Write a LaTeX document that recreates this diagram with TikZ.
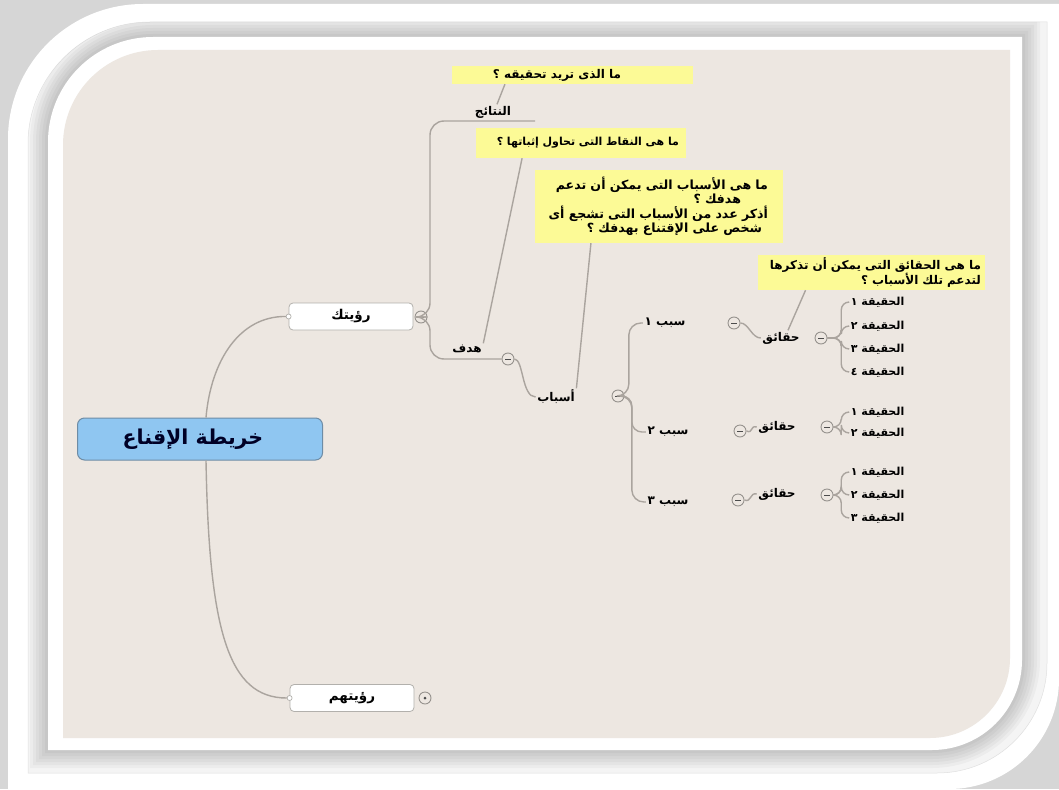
\documentclass[tikz,border=0pt]{standalone}
\usepackage{fontspec}
\usetikzlibrary{calc}
\TeXXeTstate=1
\newfontfamily\arfont[Script=Arabic]{DejaVu Sans}

\definecolor{paper}{RGB}{237,231,225}
\definecolor{edgegray}{RGB}{214,214,214}
\definecolor{glowgray}{RGB}{244,244,244}
\definecolor{linkgray}{RGB}{170,164,158}
\definecolor{boxgray}{RGB}{178,176,172}
\definecolor{notey}{RGB}{252,250,150}
\definecolor{rootblue}{RGB}{143,198,241}
\definecolor{rootedge}{RGB}{110,140,165}
\definecolor{toggray}{RGB}{150,146,142}

% frame outline with rounded top-left and bottom-right corners:
% x1 y1 x2 y2 radiusTL radiusBR
\newcommand{\tlbr}[6]{(#1,{#2+#5}) .. controls (#1,{#2+0.448*#5}) and ({#1+0.448*#5},#2) .. ({#1+#5},#2) -- (#3,#2) -- (#3,{#4-#6}) .. controls (#3,{#4-0.448*#6}) and ({#3-0.448*#6},#4) .. ({#3-#6},#4) -- (#1,#4) -- cycle}

\tikzset{
  conn/.style={draw=linkgray, line width=1.4},
  lbl/.style={font=\arfont\bfseries\fontsize{12}{14}\selectfont, inner sep=1.5, text=black},
  fact/.style={lbl, anchor=east, font=\arfont\bfseries\fontsize{11}{13}\selectfont},
  topicbox/.style={draw=boxgray, fill=white, rounded corners=4, line width=0.8,
    minimum width=124, minimum height=27, inner sep=0,
    font=\arfont\bfseries\fontsize{13.5}{15}\selectfont},
  rootbox/.style={draw=rootedge, fill=rootblue, rounded corners=7, line width=1,
    minimum width=245, minimum height=42, inner sep=0, text=black!85!blue,
    font=\arfont\bfseries\fontsize{20.5}{23}\selectfont},
  note/.style={fill=notey, inner sep=0, align=right,
    font=\arfont\bfseries\fontsize{12}{15}\selectfont},
  fold/.style={circle, draw=toggray, fill=paper, line width=0.9, minimum size=12, inner sep=0,
    path picture={\draw[line width=1, black!70]
      ([xshift=-2.6pt]path picture bounding box.center) -- ([xshift=2.6pt]path picture bounding box.center);}},
  unfold/.style={circle, draw=toggray, fill=paper, line width=0.9, minimum size=12, inner sep=0,
    path picture={\fill[black!70] (path picture bounding box.center) circle (1.5pt);}},
  joint/.style={circle, draw=boxgray, fill=white, line width=0.7, minimum size=5, inner sep=0},
}

\begin{document}
\begin{tikzpicture}[x=1pt,y=-1pt]
\useasboundingbox (0,0) rectangle (1059,789);

% ---- sheet and frame ----
\fill[edgegray] (0,0) rectangle (1059,789);
\fill[white] \tlbr{8}{4}{1059}{789}{135}{110};
\fill[glowgray] \tlbr{28}{22}{1047}{773}{122}{110};
\draw[black!12, line width=0.5] \tlbr{28}{22}{1047}{773}{122}{110};
\begin{scope}
  \clip \tlbr{28}{22}{1047}{773}{122}{110};
  \foreach \w in {36,30,24,18,12,6}
    \draw[black, opacity=0.03, line width=\w] \tlbr{48}{37}{1022}{750}{105}{90};
\end{scope}
\fill[white] \tlbr{48}{37}{1022}{750}{105}{90};
\fill[paper] \tlbr{63}{50}{1010}{738}{95}{80};

% ---- topics ----
\node[rootbox] (root) at (200,439) {\beginR خريطة الإقناع\endR\hspace*{14pt}};
\node[topicbox] (vis) at (351,316.5) {\beginR رؤيتك\endR};
\node[topicbox] (theirs) at (352,698) {\beginR رؤيتهم\endR};
\node[joint] (jv) at (vis.west) {};
\node[joint] (jt) at (theirs.west) {};
\node[fold] (cv) at (421,317) {};
\node[unfold] (ct) at (425,698) {};

\node[lbl] (res) at (493,112) {\beginR النتائج\endR};
\node[lbl] (goal) at (467,349) {\beginR هدف\endR};
\node[fold] (cg) at (508,359) {};
\node[lbl] (reasons) at (556,397) {\beginR أسباب\endR};
\node[fold] (cr) at (618,396) {};

% first reason
\node[lbl] (r1) at (665,323) {\beginR سبب ١\endR};
\node[fold] (c1) at (734,323) {};
\node[lbl] (f1) at (781,338) {\beginR حقائق\endR};
\node[fold] (cf1) at (821,338) {};
\node[fact] (f1a) at (906,302) {\beginR الحقيقة ١\endR};
\node[fact] (f1b) at (906,326) {\beginR الحقيقة ٢\endR};
\node[fact] (f1c) at (906,349) {\beginR الحقيقة ٣\endR};
\node[fact] (f1d) at (906,372) {\beginR الحقيقة ٤\endR};

% second reason
\node[lbl] (r2) at (668,432) {\beginR سبب ٢\endR};
\node[fold] (c2) at (740,431) {};
\node[lbl] (f2) at (777,427) {\beginR حقائق\endR};
\node[fold] (cf2) at (827,427) {};
\node[fact] (f2a) at (906,412) {\beginR الحقيقة ١\endR};
\node[fact] (f2b) at (906,433) {\beginR الحقيقة ٢\endR};

% third reason
\node[lbl] (r3) at (668,502) {\beginR سبب ٣\endR};
\node[fold] (c3) at (738,500) {};
\node[lbl] (f3) at (777,494) {\beginR حقائق\endR};
\node[fold] (cf3) at (827,495) {};
\node[fact] (f3a) at (906,472) {\beginR الحقيقة ١\endR};
\node[fact] (f3b) at (906,495) {\beginR الحقيقة ٢\endR};
\node[fact] (f3c) at (906,518) {\beginR الحقيقة ٣\endR};

% ---- notes ----
\node[note, minimum width=241, minimum height=18, align=center] (call1) at (572.5,75)
  {\beginR ما الذى تريد تحقيقه ؟\endR\hspace*{31pt}};
\node[note, minimum width=210, minimum height=30, text width=196,
  font=\arfont\bfseries\fontsize{11}{13}\selectfont] (call2) at (581,143)
  {\beginR ما هى النقاط التى تحاول إثباتها ؟\endR};
\node[note, minimum width=248, minimum height=73, text width=236,
  font=\arfont\bfseries\fontsize{12.6}{14.5}\selectfont] (call3) at (659,206.5)
  {\beginR ما هى الأسباب التى يمكن أن تدعم\endR\hspace*{9pt}\mbox{}\\
   \beginR هدفك ؟\endR\hspace*{36pt}\mbox{}\\
   \beginR أذكر عدد من الأسباب التى تشجع أى\endR\hspace*{9pt}\mbox{}\\
   \beginR شخص على الإقتناع بهدفك ؟\endR\hspace*{15pt}\mbox{}};
\node[note, minimum width=227, minimum height=35, text width=219] (call4) at (871.5,272.5)
  {\beginR ما هى الحقائق التى يمكن أن تذكرها\endR\\
   \beginR لتدعم تلك الأسباب ؟\endR};

% ---- connectors ----
\draw[conn] ([xshift=6pt]root.north) .. controls (211,360) and (240,316) .. (jv);
\draw[conn] ([xshift=6pt]root.south) .. controls (209,630) and (228,698) .. (jt);

\draw[conn, rounded corners=14] (cv.east) -| (430,121) -- (535,121);
\draw[conn, rounded corners=14] (cv.east) -| (430,359) -- (cg.west);
\draw[conn] (cg.east) .. controls ([xshift=9pt]cg.east) and ([xshift=-14pt]reasons.west) .. (reasons.west);

\draw[conn, rounded corners=12] (cr.east) -| ([xshift=-14pt]r1.west) -- (r1.west);
\draw[conn, rounded corners=10] (cr.east) -| ([xshift=-14pt]r2.west) -- (r2.west);
\draw[conn, rounded corners=12] (cr.east) -| ([xshift=-14pt]r3.west) -- (r3.west);

\draw[conn] (c1.east) .. controls ([xshift=8pt]c1.east) and ([xshift=-9pt]f1.west) .. (f1.west);
\draw[conn] (c2.east) .. controls ([xshift=7pt,yshift=-3pt]c2.east) and ([xshift=-7pt,yshift=2pt]f2.west) .. (f2.west);
\draw[conn] (c3.east) .. controls ([xshift=7pt,yshift=-3pt]c3.east) and ([xshift=-7pt,yshift=2pt]f3.west) .. (f3.west);

\foreach \t in {f1a,f1b,f1c,f1d}
  \draw[conn, rounded corners=8] (cf1.east) -| ([xshift=-8pt]\t.west) -- (\t.west);
\foreach \t in {f2a,f2b}
  \draw[conn, rounded corners=8] (cf2.east) -| ([xshift=-8pt]\t.west) -- (\t.west);
\foreach \t in {f3a,f3b,f3c}
  \draw[conn, rounded corners=8] (cf3.east) -| ([xshift=-8pt]\t.west) -- (\t.west);

\draw[conn] ($(call1.south west)!0.22!(call1.south east)$) -- ([xshift=4pt]res.north);
\draw[conn] ($(call2.south west)!0.22!(call2.south east)$) -- (goal.north east);
\draw[conn] ($(call3.south west)!0.226!(call3.south east)$) -- (reasons.north east);
\draw[conn] ($(call4.south west)!0.21!(call4.south east)$) -- ([xshift=7pt]f1.north);
\end{tikzpicture}
\end{document}
